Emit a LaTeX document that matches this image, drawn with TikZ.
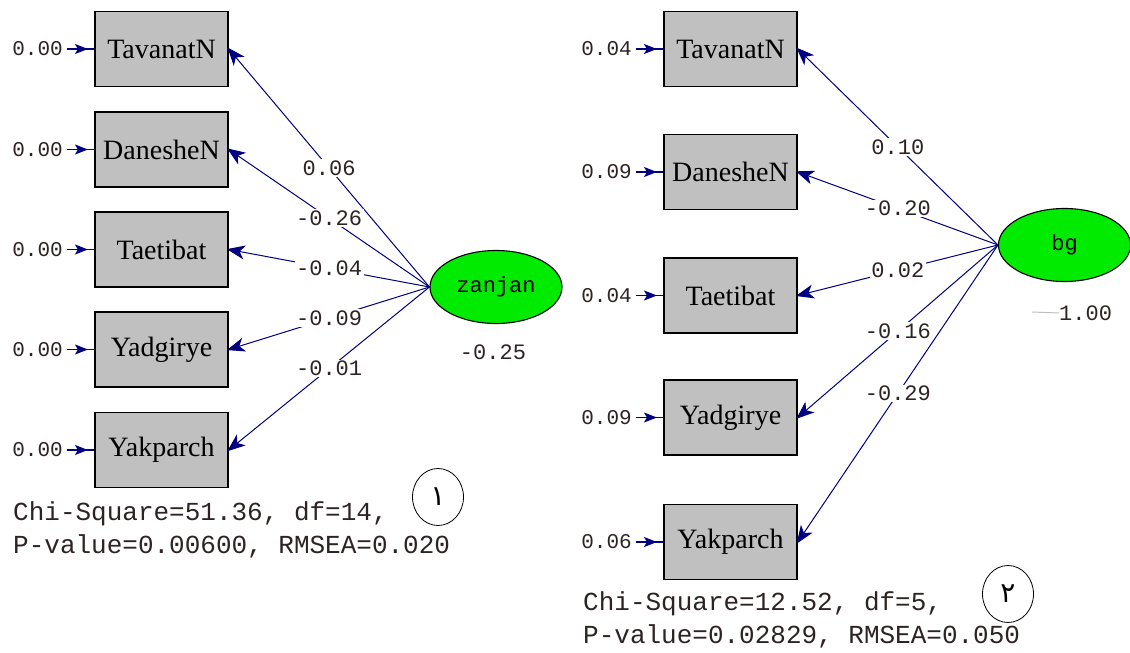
\documentclass[tikz,border=0pt]{standalone}
\usepackage{fontspec}
\setmainfont{Liberation Serif}
\setmonofont{Liberation Mono}
\newfontfamily\arabfont[Script=Arabic]{DejaVu Sans}
\TeXXeTstate=1
\usetikzlibrary{shapes.geometric,arrows.meta,decorations.markings}
\definecolor{navy}{RGB}{0,0,128}
\definecolor{boxgray}{RGB}{192,192,192}
\definecolor{ovalgreen}{RGB}{0,235,0}
\definecolor{numtxt}{RGB}{45,35,35}
\tikzset{
  obsbox/.style={draw=black, line width=1.6pt, fill=boxgray, minimum width=133pt, minimum height=75pt, inner sep=0pt, font=\fontsize{28}{28}\selectfont},
  latent/.style={ellipse, draw=black, line width=1.1pt, fill=ovalgreen, minimum width=132pt, minimum height=73pt, inner sep=0pt, font=\ttfamily\fontsize{22}{22}\selectfont},
  errlab/.style={anchor=east, inner sep=0pt, text=numtxt, font=\ttfamily\fontsize{21}{21}\selectfont},
  pathlab/.style={fill=white, inner sep=1.5pt, text=numtxt, font=\ttfamily\fontsize{22}{22}\selectfont},
  loadarrow/.style={navy, line width=1pt, -{Stealth[length=18pt,width=14pt,inset=5pt]}, shorten >=-2pt},
  errarrow/.style={navy, line width=1.4pt, shorten <=4pt,
    postaction={decorate}, decoration={markings, mark=at position 0.8 with {\arrow{Stealth[length=13pt,width=10pt,inset=3pt]}}}},
  stattxt/.style={anchor=west, inner sep=0pt, text=numtxt, font=\ttfamily\fontsize{26}{26}\selectfont},
  numcircle/.style={draw=black, line width=0.8pt, ellipse, minimum width=51pt, minimum height=57pt, inner sep=0pt, font=\arabfont\fontsize{28}{28}\selectfont},
}
\begin{document}
\begin{tikzpicture}[x=1pt,y=-1pt]
\useasboundingbox (0,0) rectangle (1130,653);

% ---------- left model ----------
\node[obsbox] (l1) at (161.5,49) {TavanatN};
\node[obsbox] (l2) at (161.5,149.5) {DanesheN};
\node[obsbox] (l3) at (161.5,249.5) {Taetibat};
\node[obsbox] (l4) at (161.5,349.5) {Yadgirye};
\node[obsbox] (l5) at (161.5,450) {Yakparch};

\node[latent] (zan) at (496,287) {zanjan};
\node[inner sep=0pt, text=numtxt, font=\ttfamily\fontsize{22}{22}\selectfont] (zanv) at (493,352) {-0.25};

\foreach \i/\y in {1/49,2/149.5,3/249.5,4/349.5,5/450}{
  \node[errlab] (le\i) at (63,\y) {0.00};
  \draw[errarrow] (le\i.east) -- (l\i.west);
}

\foreach \i/\v in {1/0.06,2/-0.26,3/-0.04,4/-0.09,5/-0.01}{
  \draw[loadarrow] (zan.west) -- node[pathlab, pos=0.5] {\v} (l\i.east);
}

\node[stattxt] (ls1) at (13,514) {Chi-Square=51.36, df=14,};
\node[stattxt] (ls2) at (13,546) {P-value=0.00600, RMSEA=0.020};
\node[numcircle] (lc) at (438,497) {\beginR ١\endR};

% ---------- right model ----------
\node[obsbox] (r1) at (730.5,49) {TavanatN};
\node[obsbox] (r2) at (730.5,172) {DanesheN};
\node[obsbox] (r3) at (730.5,295.5) {Taetibat};
\node[obsbox] (r4) at (730.5,417.5) {Yadgirye};
\node[obsbox] (r5) at (730.5,542) {Yakparch};

\node[latent] (bg) at (1064.5,245) {bg};
\coordinate (vs) at (1032,312);
\node[anchor=west, inner sep=0pt, text=numtxt, font=\ttfamily\fontsize{22}{22}\selectfont] (bgv) at (1059,313) {1.00};
\draw[gray!50, line width=1pt] (vs) -- (bgv.west);

\foreach \i/\y/\v in {1/49/0.04,2/172/0.09,3/295.5/0.04,4/417.5/0.09,5/542/0.06}{
  \node[errlab] (re\i) at (632,\y) {\v};
  \draw[errarrow] (re\i.east) -- (r\i.west);
}

\foreach \i/\v in {1/0.10,2/-0.20,3/0.02,4/-0.16,5/-0.29}{
  \draw[loadarrow] (bg.west) -- node[pathlab, pos=0.5] {\v} (r\i.east);
}

\node[stattxt] (rs1) at (583,604) {Chi-Square=12.52, df=5,};
\node[stattxt] (rs2) at (583,636) {P-value=0.02829, RMSEA=0.050};
\node[numcircle] (rc) at (1008,594) {\beginR ٢\endR};
\end{tikzpicture}
\end{document}
